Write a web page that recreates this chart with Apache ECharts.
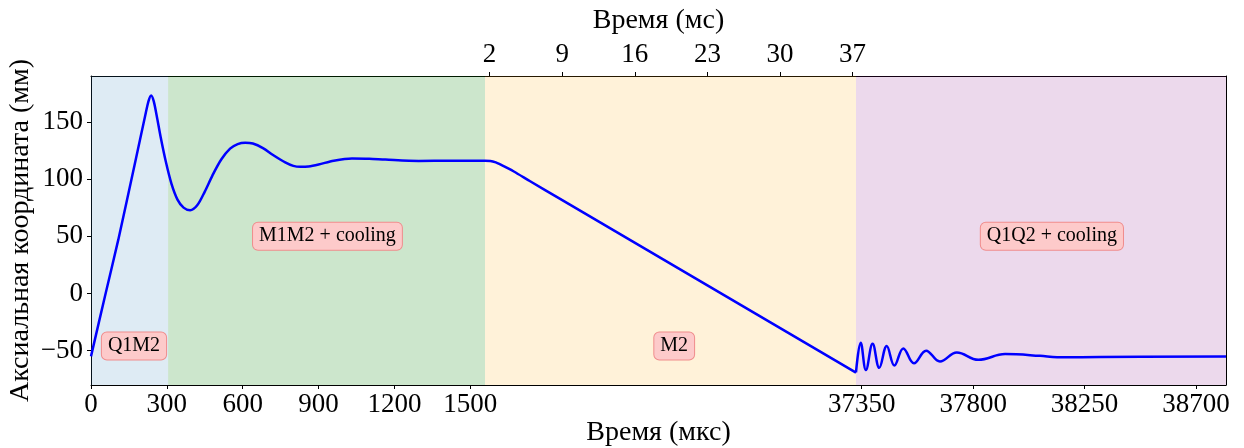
<!DOCTYPE html>
<html>
<head>
<meta charset="utf-8">
<script src="https://cdn.jsdelivr.net/npm/echarts@6/dist/echarts.min.js"></script>
<style>
  html, body { margin: 0; padding: 0; background: #fff; }
  #main { width: 1244px; height: 448px; }
</style>
</head>
<body>
<div id="main"></div>
<script>
// segment 1: trap loading + cooling, time in мкс
const seg1Time = [0, 55, 108, 174, 214, 228, 238, 248, 260, 276, 296, 318, 342, 366, 392, 420, 450, 480, 515, 550, 580, 610, 640, 680, 720, 768, 800, 828, 860, 900, 960, 1032, 1100, 1164, 1296, 1420, 1558]
const seg1Pos = [-55, -2.6, 47, 114, 155, 168.5, 173, 168, 155, 136, 115, 96, 82, 75, 72.7, 77, 89, 103, 117, 126.5, 130.5, 131.7, 131, 127, 121, 114.5, 111.5, 110.7, 111, 112.7, 116, 118, 117.8, 117, 115.8, 115.9, 116]

// segment 2: transport, time in мс
const seg2Time = [1.558, 2.07, 2.6, 3.03, 4.3, 5.91, 8.8, 37.327]
const seg2Pos = [116, 115.8, 114.5, 112.7, 106.8, 98, 82.6, -69.2]

// segment 3: recapture + cooling, time in мкс
const seg3Time = [37327, 37346, 37367, 37394, 37421, 37451, 37482, 37518, 37561, 37610, 37666, 37734, 37821, 37929, 38070, 38139, 38313, 38821]
const seg3Pos = [-69, -43, -67, -44, -65, -46, -63, -48, -61, -50, -59.5, -51.6, -58, -53, -54.5, -55.8, -55.5, -55]

// phases
const phaseNames = ['Q1M2', 'M1M2 + cooling', 'M2', 'Q1Q2 + cooling']
const phaseStart = [0, 305, 1.558, 37327]
const phaseEnd = [305, 1558, 37.327, 38821]
const phaseLabelX = [170, 935, 19.8, 38118]
const phaseLabelY = [-46, 50, -46, 50]
const phaseColors = ['rgba(31,119,180,0.15)', 'rgba(0,128,0,0.2)', 'rgba(255,165,0,0.15)', 'rgba(128,0,128,0.15)']

// ticks
const ticksUs1 = [0, 300, 600, 900, 1200, 1500]
const ticksMs = [2, 9, 16, 23, 30, 37]
const ticksUs2 = [37350, 37800, 38250, 38700]
const ticksY = [-50, 0, 50, 100, 150]

const FONT = '"Liberation Serif", "DejaVu Serif", serif'
const yMin = -80
const yMax = 190

const chart = echarts.init(document.getElementById('main'))

const frameLine = { show: true, onZero: false, lineStyle: { color: '#000', width: 1 } }
const tickStyle = (vals) => ({
  show: true, inside: false, length: 4, customValues: vals,
  lineStyle: { color: '#000', width: 1 }
})
const labelStyle = (vals, margin) => ({
  show: true, customValues: vals, margin: margin,
  color: '#000', fontFamily: FONT, fontSize: 27,
  formatter: (v) => String(v).replace('-', '\u2212')
})
const bareAxis = (grid, pos, min, max) => ({
  type: 'value', gridIndex: grid, position: pos, min: min, max: max,
  axisLine: frameLine, axisTick: { show: false }, axisLabel: { show: false }, splitLine: { show: false }
})

const pair = (xs, ys) => xs.map((x, i) => [x, ys[i]])

const areaFor = (idx) => [{ xAxis: phaseStart[idx], itemStyle: { color: phaseColors[idx] } }, { xAxis: phaseEnd[idx] }]
const labelFor = (idx) => ({
  coord: [phaseLabelX[idx], phaseLabelY[idx]],
  value: phaseNames[idx]
})

const markLabel = {
  show: true, position: 'inside', formatter: '{b}',
  color: '#000', fontFamily: FONT, fontSize: 20,
  backgroundColor: '#fdcaca', borderColor: '#f08c8c', borderWidth: 1,
  borderRadius: 5, padding: [4, 6, 3, 6]
}

const lineSeries = (xi, yi, data, smooth, areas, labels) => ({
  type: 'line',
  xAxisIndex: xi,
  yAxisIndex: yi,
  data: data,
  showSymbol: false,
  smooth: smooth,
  lineStyle: { color: '#0000ff', width: 2.5 },
  itemStyle: { color: '#0000ff' },
  silent: true,
  markArea: { silent: true, data: areas },
  markPoint: {
    symbol: 'rect', symbolSize: 0, silent: true,
    label: markLabel,
    data: labels.map((l) => ({ name: l.value, coord: l.coord }))
  }
})

const option = {
  animation: false,
  backgroundColor: '#fff',
  grid: [
    { left: 91, top: 76, width: 394, height: 309 },
    { left: 485, top: 76, width: 371, height: 309 },
    { left: 856, top: 76, width: 370, height: 309 }
  ],
  xAxis: [
    {
      type: 'value', gridIndex: 0, position: 'bottom', min: 0, max: 1558,
      axisLine: frameLine, axisTick: tickStyle(ticksUs1), axisLabel: labelStyle(ticksUs1, 6),
      splitLine: { show: false }
    },
    bareAxis(0, 'top', 0, 1558),
    bareAxis(1, 'bottom', 1.558, 37.327),
    {
      type: 'value', gridIndex: 1, position: 'top', min: 1.558, max: 37.327,
      axisLine: frameLine, axisTick: tickStyle(ticksMs), axisLabel: labelStyle(ticksMs, 8),
      splitLine: { show: false }
    },
    {
      type: 'value', gridIndex: 2, position: 'bottom', min: 37327, max: 38821,
      axisLine: frameLine, axisTick: tickStyle(ticksUs2), axisLabel: labelStyle(ticksUs2, 6),
      splitLine: { show: false }
    },
    bareAxis(2, 'top', 37327, 38821)
  ],
  yAxis: [
    {
      type: 'value', gridIndex: 0, position: 'left', min: yMin, max: yMax,
      axisLine: frameLine, axisTick: tickStyle(ticksY), axisLabel: labelStyle(ticksY, 8),
      splitLine: { show: false },
      name: 'Аксиальная координата (мм)', nameLocation: 'middle', nameGap: 56,
      nameTextStyle: { color: '#000', fontFamily: FONT, fontSize: 28 }
    },
    { type: 'value', gridIndex: 1, min: yMin, max: yMax, show: false },
    bareAxis(2, 'right', yMin, yMax)
  ],
  graphic: [
    {
      type: 'text', x: 658.5, y: 433,
      style: { text: 'Время (мкс)', fontFamily: FONT, fontSize: 28, fill: '#000', align: 'center', verticalAlign: 'middle' }
    },
    {
      type: 'text', x: 658.5, y: 21,
      style: { text: 'Время (мс)', fontFamily: FONT, fontSize: 28, fill: '#000', align: 'center', verticalAlign: 'middle' }
    }
  ],
  series: [
    lineSeries(0, 0, pair(seg1Time, seg1Pos), 0.3, [areaFor(0), areaFor(1)], [labelFor(0), labelFor(1)]),
    lineSeries(2, 1, pair(seg2Time, seg2Pos), 0.3, [areaFor(2)], [labelFor(2)]),
    lineSeries(4, 2, pair(seg3Time, seg3Pos), 0.4, [areaFor(3)], [labelFor(3)])
  ]
}

chart.setOption(option)
</script>
</body>
</html>
